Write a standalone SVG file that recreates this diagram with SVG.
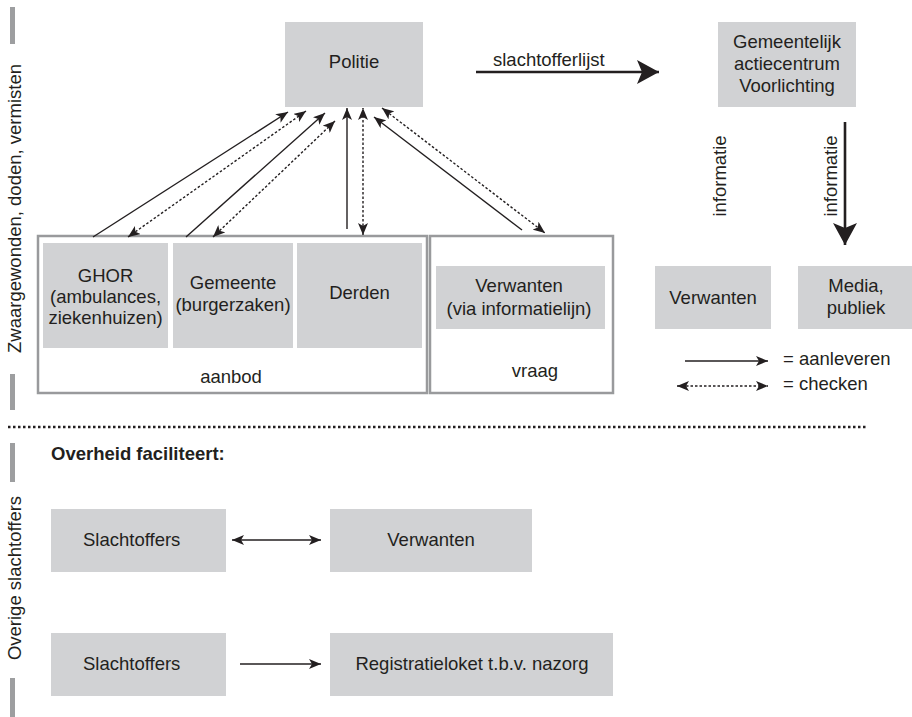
<svg xmlns="http://www.w3.org/2000/svg" width="912" height="717" viewBox="0 0 912 717">
<style>
text{font-family:"Liberation Sans",Arial,Helvetica,sans-serif;font-size:18.5px;fill:#231f20}
.c{text-anchor:middle}
.b{font-weight:bold}
.box{fill:#d1d2d4}
.cont{fill:none;stroke:#999a9c;stroke-width:2.5}
.bar{fill:#9d9ea0}
.ln{fill:none;stroke:#231f20;stroke-width:1.4}
.dl{fill:none;stroke:#231f20;stroke-width:1.4;stroke-dasharray:2.5 2}
.thick{fill:none;stroke:#231f20;stroke-width:2.6}
</style>
<defs>
<marker id="ah" viewBox="0 0 12 10" refX="12" refY="5" markerWidth="12" markerHeight="10" markerUnits="userSpaceOnUse" orient="auto-start-reverse">
<path d="M0,0 L12,5 L0,10 L3,5 z" fill="#231f20"/>
</marker>
<marker id="big" viewBox="0 0 22 24" refX="22" refY="12" markerWidth="22" markerHeight="24" markerUnits="userSpaceOnUse" orient="auto">
<path d="M0,0 L22,12 L0,24 L5,12 z" fill="#231f20"/>
</marker>
</defs>

<g id="side-labels">
<rect class="bar" x="10" y="7" width="5" height="37"/>
<rect class="bar" x="10" y="374" width="5" height="36"/>
<rect class="bar" x="10" y="443" width="5" height="39"/>
<rect class="bar" x="10" y="678" width="5" height="39"/>
<text class="c" transform="translate(21,208.5) rotate(-90)">Zwaargewonden, doden, vermisten</text>
<text class="c" transform="translate(21,578) rotate(-90)">Overige slachtoffers</text>
</g>

<g id="divider">
<line x1="8" y1="427" x2="868" y2="427" stroke="#231f20" stroke-width="2.5" stroke-dasharray="2.5 2.5"/>
</g>

<g id="politie">
<rect class="box" x="285" y="22" width="138" height="85"/>
<text class="c" x="354" y="68">Politie</text>
</g>

<g id="gemeentelijk">
<rect class="box" x="718" y="22" width="138" height="85"/>
<text class="c" x="787" y="48">Gemeentelijk</text>
<text class="c" x="787" y="70">actiecentrum</text>
<text class="c" x="787" y="92">Voorlichting</text>
</g>

<g id="aanbod">
<rect class="cont" x="38" y="236" width="389" height="157"/>
<text class="c" x="231" y="383">aanbod</text>
</g>

<g id="ghor">
<rect class="box" x="43" y="243" width="125" height="105"/>
<text class="c" x="105.5" y="282">GHOR</text>
<text class="c" x="105.5" y="303">(ambulances,</text>
<text class="c" x="105.5" y="324">ziekenhuizen)</text>
</g>

<g id="gemeente">
<rect class="box" x="173" y="243" width="120" height="105"/>
<text class="c" x="233" y="289">Gemeente</text>
<text class="c" x="233" y="311">(burgerzaken)</text>
</g>

<g id="derden">
<rect class="box" x="297" y="243" width="125" height="105"/>
<text class="c" x="359.5" y="299">Derden</text>
</g>

<g id="vraag">
<rect class="cont" x="430" y="236" width="183" height="157"/>
<text class="c" x="535" y="377">vraag</text>
</g>

<g id="verwanten-info">
<rect class="box" x="436" y="266" width="169" height="63"/>
<text class="c" x="519" y="292">Verwanten</text>
<text class="c" x="519" y="315">(via informatielijn)</text>
</g>

<g id="verwanten-r">
<rect class="box" x="655" y="266" width="116" height="63"/>
<text class="c" x="713" y="304">Verwanten</text>
</g>

<g id="media">
<rect class="box" x="798" y="266" width="114" height="63"/>
<text class="c" x="856" y="292">Media,</text>
<text class="c" x="856" y="314">publiek</text>
</g>

<g id="legend">
<line class="ln" x1="685" y1="361" x2="768" y2="361" marker-end="url(#ah)"/>
<text x="783" y="365">= aanleveren</text>
<line class="dl" x1="677" y1="386" x2="768" y2="386" marker-start="url(#ah)" marker-end="url(#ah)"/>
<text x="783" y="390">= checken</text>
</g>

<g id="overheid">
<text class="b" x="51" y="460">Overheid faciliteert:</text>
</g>

<g id="slachtoffers1">
<rect class="box" x="51" y="509" width="175" height="63"/>
<text x="83" y="546">Slachtoffers</text>
</g>

<g id="verwanten-b">
<rect class="box" x="330" y="509" width="202" height="63"/>
<text class="c" x="431" y="546">Verwanten</text>
</g>

<g id="slachtoffers2">
<rect class="box" x="51" y="633" width="175" height="63"/>
<text x="83" y="670">Slachtoffers</text>
</g>

<g id="registratieloket">
<rect class="box" x="330" y="633" width="283" height="63"/>
<text class="c" x="472" y="670">Registratieloket t.b.v. nazorg</text>
</g>

<g id="connectors">
<line class="ln" x1="93" y1="237" x2="288" y2="112" marker-end="url(#ah)"/>
<line class="dl" x1="128" y1="237" x2="306" y2="111" marker-start="url(#ah)" marker-end="url(#ah)"/>
<line class="ln" x1="186" y1="237" x2="325" y2="113" marker-end="url(#ah)"/>
<line class="dl" x1="213" y1="237" x2="335" y2="121" marker-start="url(#ah)" marker-end="url(#ah)"/>
<line class="ln" x1="347" y1="229" x2="347" y2="108" marker-end="url(#ah)"/>
<line class="dl" x1="363" y1="235" x2="363" y2="108" marker-start="url(#ah)" marker-end="url(#ah)"/>
<line class="ln" x1="522" y1="230" x2="374" y2="117" marker-end="url(#ah)"/>
<line class="dl" x1="382" y1="108" x2="545" y2="233" marker-start="url(#ah)" marker-end="url(#ah)"/>
<line class="thick" x1="476" y1="72" x2="659" y2="72" marker-end="url(#big)"/>
<text x="493" y="66">slachtofferlijst</text>
<line class="thick" x1="845" y1="122" x2="845" y2="245" marker-end="url(#big)"/>
<text class="c" transform="translate(726,176) rotate(-90)">informatie</text>
<text class="c" transform="translate(837,176) rotate(-90)">informatie</text>
<line class="ln" x1="232" y1="540" x2="321" y2="540" marker-start="url(#ah)" marker-end="url(#ah)"/>
<line class="ln" x1="240" y1="664" x2="321" y2="664" marker-end="url(#ah)"/>
</g>
</svg>
